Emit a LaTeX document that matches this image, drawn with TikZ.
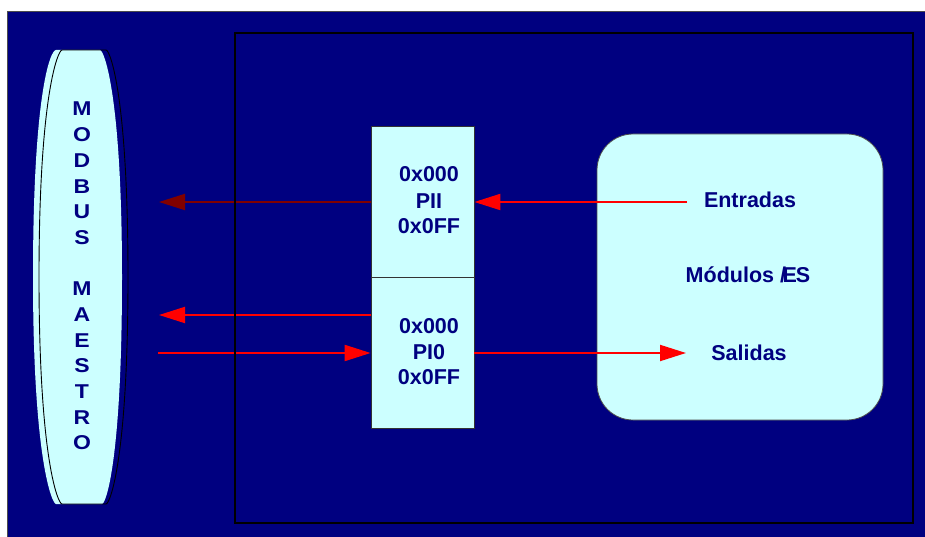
\documentclass[tikz,border=0pt]{standalone}
\usepackage{fontspec}
\setmainfont{Liberation Sans}
\usetikzlibrary{arrows.meta}
\definecolor{navybg}{RGB}{0,0,128}
\definecolor{paleaqua}{RGB}{204,255,255}
\definecolor{inknavy}{RGB}{0,0,128}
\definecolor{darkred}{RGB}{128,0,0}
\begin{document}
\begin{tikzpicture}[x=1pt,y=-1pt,
  lbl/.style={text=inknavy, font=\fontsize{21.5}{26}\selectfont\bfseries, inner sep=0pt, anchor=base},
  vlet/.style={text=inknavy, font=\fontsize{20}{24}\selectfont\bfseries, inner sep=0pt, anchor=base},
  regbox/.style={draw=black!80, line width=0.8pt, fill=paleaqua, minimum width=103pt, minimum height=151pt, inner sep=0pt},
  sig/.style={red, line width=2pt, -{Triangle[length=26pt,width=16pt]}},
]
\useasboundingbox (0,0) rectangle (925,537);
\fill[white] (0,0) rectangle (925,537);
% dark backdrop
\draw[fill=navybg, draw=black!70, line width=1pt] (7.5,12) rectangle (940,550);

% I/O modules block
\node[draw=black!70, line width=0.8pt, fill=paleaqua, rounded corners=36pt,
      minimum width=286pt, minimum height=286pt, inner sep=0pt] (mod) at (740,277) {};

% process image registers
\node[regbox] (pii) at (422.5,201.5) {};
\node[regbox] (pio) at (422.5,352.5) {};

% Modbus master drum: fill slightly offset from its outline
\fill[paleaqua] (56,50) -- (100,50)
  .. controls (104,50) and (122,95) .. (122,277)
  .. controls (122,459) and (106,504) .. (102,504)
  -- (56,504)
  .. controls (52,504) and (33,459) .. (33,277)
  .. controls (33,95) and (50,50) .. cycle;
\draw[black, line width=0.9pt] (62,50) -- (106,50)
  .. controls (110,50) and (128,95) .. (128,277)
  .. controls (128,459) and (110,504) .. (106,504)
  -- (62,504)
  .. controls (58,504) and (39,459) .. (39,277)
  .. controls (39,95) and (58,50) .. cycle;

\foreach \ch/\k in {M/0,O/1,D/2,B/3,U/4,S/5,M/7,A/8,E/9,S/10,T/11,R/12,O/13}
  \node[vlet] (mb\k) at (82,{116+25.67*\k}) {\scalebox{1.15}[1]{\ch}};

% signal flow
\coordinate (ret1) at (159,202);
\coordinate (ret2) at (159,315);
\coordinate (req)  at (158,353);
\coordinate (inp)  at (687,202);
\coordinate (outp) at (686,353);
\draw[sig, darkred] (pii.west |- ret1) -- (ret1);
\draw[sig] (pio.west |- ret2) -- (ret2);
\draw[sig] (req) -- (pio.west |- req);
\draw[sig] (inp) -- (pii.east |- inp);
\draw[sig] (pio.east |- outp) -- (outp);

% slave frame
\node[draw=black, line width=2pt, minimum width=678pt, minimum height=490pt,
      inner sep=0pt, anchor=north west] (frame) at (234,32) {};

% register labels
\node[lbl] (pia) at (429,181.7) {0x000};
\node[lbl] (pib) at (429,208.0) {PII};
\node[lbl] (pic) at (429,233.5) {0x0FF};
\node[lbl] (poa) at (429,333.3) {0x000};
\node[lbl] (pob) at (429,359.3) {PI0};
\node[lbl] (poc) at (429,384.5) {0x0FF};

% module labels
\node[lbl] (entr)  at (750,207.3) {Entradas};
\node[lbl] (modes) at (748,282.3) {Módulos \makebox[0pt][l]{/}\kern2.5pt E\kern-1pt S};
\node[lbl] (sal)   at (749,360.0) {Salidas};
\end{tikzpicture}
\end{document}
